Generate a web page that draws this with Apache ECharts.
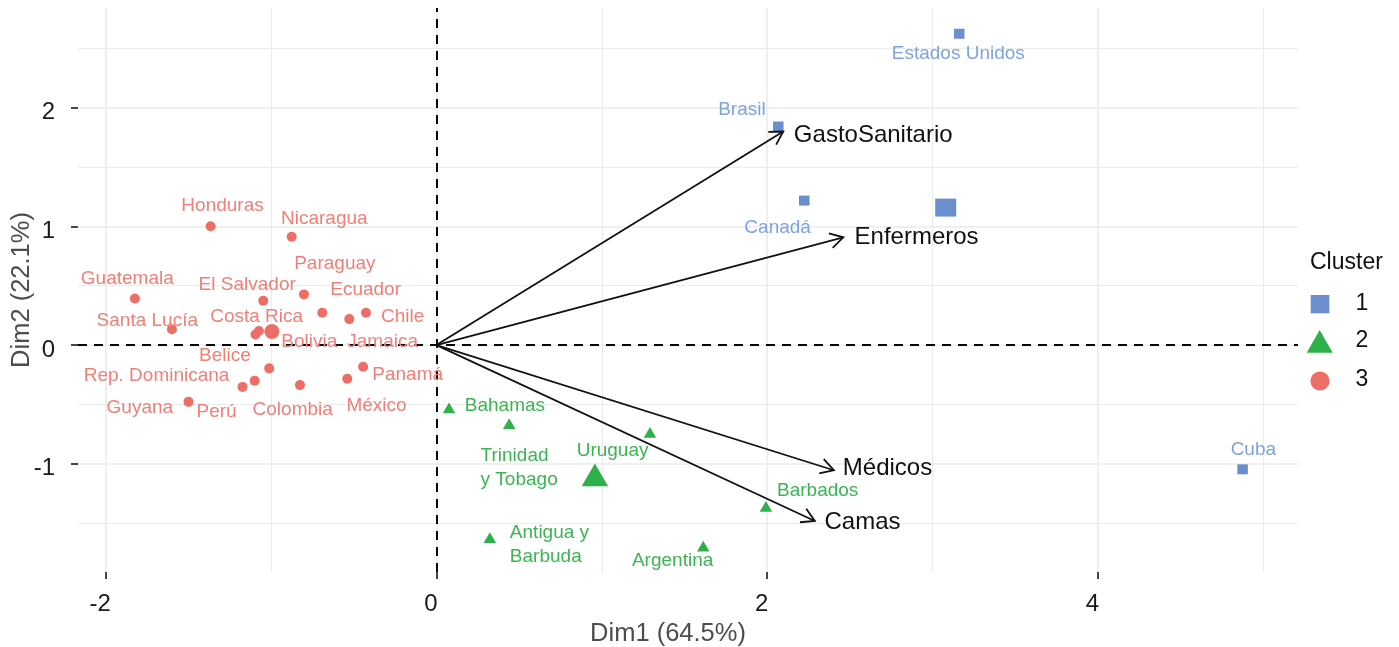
<!DOCTYPE html>
<html><head><meta charset="utf-8">
<script src="https://cdn.jsdelivr.net/npm/echarts@6/dist/echarts.min.js"></script>
<style>html,body{margin:0;padding:0;background:#fff}#c{width:1399px;height:647px}</style>
</head><body><div id="c"></div>
<script>
// ---------------- data ----------------
// Cluster 1
const c1Names = ['Estados Unidos', 'Brasil', 'Canadá', 'Cuba'];
const c1Dim1 = [3.161, 2.067, 2.224, 4.874];
const c1Dim2 = [2.622, 1.841, 1.217, -1.046];
const c1LabDim1 = [3.155, 1.847, 2.063, 4.939];
const c1LabDim2 = [2.451, 1.981, 0.989, -0.880];
// Cluster 2
const c2Names = ['Bahamas', 'Trinidad\ny Tobago', 'Uruguay', 'Antigua y\nBarbuda', 'Argentina', 'Barbados'];
const c2Dim1 = [0.076, 0.440, 1.291, 0.323, 1.613, 1.992];
const c2Dim2 = [-0.543, -0.676, -0.750, -1.636, -1.708, -1.373];
const c2LabDim1 = [0.414, 0.267, 1.065, 0.444, 1.428, 2.305];
const c2LabDim2 = [-0.514, -1.035, -0.891, -1.680, -1.813, -1.229];
// Cluster 3
const c3Names = ['Honduras', 'Nicaragua', 'Guatemala', 'El Salvador', 'Paraguay', 'Ecuador', 'Jamaica', 'Chile',
  'Santa Lucía', 'Costa Rica', 'Bolivia', 'Belice', 'Rep. Dominicana', 'Perú', 'Colombia', 'México', 'Panamá', 'Guyana'];
const c3Dim1 = [-1.365, -0.875, -1.823, -1.047, -0.801, -0.690, -0.527, -0.426,
  -1.599, -1.094, -1.073, -1.011, -1.099, -1.172, -0.825, -0.539, -0.443, -1.499];
const c3Dim2 = [1.001, 0.913, 0.392, 0.374, 0.427, 0.272, 0.219, 0.272,
  0.133, 0.089, 0.118, -0.196, -0.301, -0.352, -0.337, -0.284, -0.183, -0.478];
const c3LabDim1 = [-1.293, -0.678, -1.869, -1.144, -0.614, -0.428, -0.325, -0.204,
  -1.748, -1.087, -0.769, -1.279, -1.692, -1.329, -0.869, -0.362, -0.174, -1.793];
const c3LabDim2 = [1.175, 1.068, 0.559, 0.512, 0.683, 0.470, 0.025, 0.239,
  0.205, 0.239, 0.025, -0.093, -0.261, -0.562, -0.542, -0.514, -0.253, -0.529];
// Cluster centres
const centreDim1 = [3.079, 0.958, -0.995];
const centreDim2 = [1.158, -1.125, 0.114];
// Variables (arrows)
const varNames = ['GastoSanitario', 'Enfermeros', 'Médicos', 'Camas'];
const varDim1 = [2.097, 2.460, 2.403, 2.288];
const varDim2 = [1.799, 0.908, -1.054, -1.481];
const varLabDim1 = [2.641, 2.903, 2.727, 2.576];
const varLabDim2 = [1.770, 0.908, -1.037, -1.490];
// Axes
const xTicks = [-2, 0, 2, 4];
const yTicks = [-1, 0, 1, 2];
const xMinorGrid = [-1, 1, 3, 5];
const yMinorGrid = [-1.5, -0.5, 0.5, 1.5, 2.5];
const legendLabels = ['1', '2', '3'];

// ---------------- styles ----------------
const FONT = '"Liberation Sans", Arial, sans-serif';
const COL = ['#6A8FCE', '#2EB04B', '#EC6E66'];
const LABCOL = ['#7FA3DD', '#3AB552', '#F07F77'];

const zip = (a, b) => a.map((v, i) => [v, b[i]]);

function labelSeries(xs, ys, texts, color, size, z) {
  return {
    type: 'custom', z: z, silent: true, animation: false, clip: false,
    data: zip(xs, ys),
    renderItem: function (params, api) {
      const p = api.coord([api.value(0), api.value(1)]);
      const t = texts[params.dataIndex];
      const multi = t.indexOf('\n') >= 0;
      return {
        type: 'text', x: p[0], y: p[1],
        style: {
          text: t, fill: color, fontSize: size, fontFamily: FONT,
          align: multi ? 'left' : 'center', verticalAlign: 'middle', lineHeight: size * 1.25
        }
      };
    }
  };
}

const triSmall = [12.5, 10.7], triBig = [26.5, 22.7];

const option = {
  backgroundColor: '#fff',
  animation: false,
  grid: { left: 78, right: 101, top: 8, bottom: 75, containLabel: false, outerBoundsMode: 'none' },
  xAxis: {
    type: 'value', min: -2.167, max: 5.209,
    name: 'Dim1 (64.5%)', nameLocation: 'middle', nameGap: 49, nameMoveOverlap: false,
    nameTextStyle: { fontSize: 25.5, color: '#4d4d4d', fontFamily: FONT, padding: [0, 40, 0, 0] },
    axisLine: { show: false, onZero: false },
    axisTick: { show: true, length: 7, lineStyle: { color: '#333', width: 1.8 }, customValues: xTicks },
    axisLabel: { customValues: xTicks, fontSize: 24, color: '#1a1a1a', fontFamily: FONT, margin: 20, padding: [0, 11, 0, 0] },
    splitLine: { show: false }
  },
  yAxis: {
    type: 'value', min: -1.911, max: 2.839,
    name: 'Dim2 (22.1%)', nameLocation: 'middle', nameGap: 43, nameRotate: 90, nameMoveOverlap: false,
    nameTextStyle: { fontSize: 25.5, color: '#4d4d4d', fontFamily: FONT },
    axisLine: { show: false, onZero: false },
    axisTick: { show: true, length: 7, lineStyle: { color: '#333', width: 1.8 }, customValues: yTicks },
    axisLabel: {
      customValues: yTicks, margin: 23,
      formatter: v => '{a|' + v + '}',
      rich: { a: { fontSize: 24, color: '#1a1a1a', fontFamily: FONT, padding: [10, 0, 0, 0] } }
    },
    splitLine: { show: false }
  },
  series: [
    { // grid lines
      type: 'scatter', data: [], z: 0, silent: true,
      markLine: {
        z: 0, silent: true, symbol: ['none', 'none'], label: { show: false }, animation: false,
        lineStyle: { color: '#ebebeb', width: 1.6, type: 'solid' },
        emphasis: { disabled: true },
        data: [].concat(
          xTicks.map(v => ({ xAxis: v })),
          yTicks.map(v => ({ yAxis: v })),
          xMinorGrid.map(v => ({ xAxis: v, lineStyle: { width: 1.1 } })),
          yMinorGrid.map(v => ({ yAxis: v, lineStyle: { width: 1.1 } }))
        )
      }
    },
    { // reference dashed lines
      type: 'scatter', data: [], z: 1, silent: true,
      markLine: {
        z: 1, silent: true, symbol: ['none', 'none'], label: { show: false }, animation: false,
        lineStyle: { color: '#000', width: 1.9, type: [9, 7] },
        emphasis: { disabled: true },
        data: [{ xAxis: 0 }, { yAxis: 0 }]
      }
    },
    { name: '1', type: 'scatter', z: 3, data: zip(c1Dim1, c1Dim2), symbol: 'rect', symbolSize: [10.5, 10], itemStyle: { color: COL[0], opacity: 1 } },
    { name: '2', type: 'scatter', z: 3, data: zip(c2Dim1, c2Dim2), symbol: 'triangle', symbolSize: triSmall, symbolOffset: [0, -triSmall[1] / 6], itemStyle: { color: COL[1], opacity: 1 } },
    { name: '3', type: 'scatter', z: 3, data: zip(c3Dim1, c3Dim2), symbol: 'circle', symbolSize: 10, itemStyle: { color: COL[2], opacity: 1 } },
    { name: 'c1', type: 'scatter', z: 3, data: [[centreDim1[0], centreDim2[0]]], symbol: 'rect', symbolSize: [21, 18], itemStyle: { color: COL[0], opacity: 1 } },
    { name: 'c2', type: 'scatter', z: 3, data: [[centreDim1[1], centreDim2[1]]], symbol: 'triangle', symbolSize: triBig, symbolOffset: [0, -triBig[1] / 6], itemStyle: { color: COL[1], opacity: 1 } },
    { name: 'c3', type: 'scatter', z: 3, data: [[centreDim1[2], centreDim2[2]]], symbol: 'circle', symbolSize: 15, itemStyle: { color: COL[2], opacity: 1 } },
    labelSeries(c1LabDim1, c1LabDim2, c1Names, LABCOL[0], 19, 4),
    labelSeries(c2LabDim1, c2LabDim2, c2Names, LABCOL[1], 19, 4),
    labelSeries(c3LabDim1, c3LabDim2, c3Names, LABCOL[2], 19, 4),
    { // arrows
      type: 'custom', z: 5, silent: true, animation: false, clip: false,
      data: zip(varDim1, varDim2),
      renderItem: function (params, api) {
        const o = api.coord([0, 0]);
        const t = api.coord([api.value(0), api.value(1)]);
        const ang = Math.atan2(t[1] - o[1], t[0] - o[0]);
        const L = 15, a = Math.PI / 6;
        const p1 = [t[0] - L * Math.cos(ang - a), t[1] - L * Math.sin(ang - a)];
        const p2 = [t[0] - L * Math.cos(ang + a), t[1] - L * Math.sin(ang + a)];
        return {
          type: 'group', children: [
            { type: 'line', shape: { x1: o[0], y1: o[1], x2: t[0], y2: t[1] }, style: { stroke: '#111', lineWidth: 1.8 } },
            { type: 'polyline', shape: { points: [p1, t, p2] }, style: { stroke: '#111', lineWidth: 1.8, fill: null } }
          ]
        };
      }
    },
    labelSeries(varLabDim1, varLabDim2, varNames, '#111', 24, 6)
  ],
  graphic: [
    { type: 'text', left: 1310, top: 251, style: { text: 'Cluster', fontSize: 23, fontFamily: FONT, fill: '#111' } },
    { type: 'rect', shape: { x: 1310.7, y: 295, width: 18.7, height: 18.3 }, style: { fill: COL[0] } },
    { type: 'polygon', shape: { points: [[1319.7, 330], [1332.7, 352.7], [1306.7, 352.7]] }, style: { fill: COL[1] } },
    { type: 'circle', shape: { cx: 1320, cy: 381, r: 9.6 }, style: { fill: COL[2] } },
    { type: 'text', x: 1362, y: 304, style: { text: legendLabels[0], fontSize: 23, fontFamily: FONT, fill: '#111', align: 'center', verticalAlign: 'middle' } },
    { type: 'text', x: 1362, y: 341, style: { text: legendLabels[1], fontSize: 23, fontFamily: FONT, fill: '#111', align: 'center', verticalAlign: 'middle' } },
    { type: 'text', x: 1362, y: 380, style: { text: legendLabels[2], fontSize: 23, fontFamily: FONT, fill: '#111', align: 'center', verticalAlign: 'middle' } }
  ]
};
const chart = echarts.init(document.getElementById('c'), null, { renderer: 'canvas' });
chart.setOption(option);
</script>
</body></html>
